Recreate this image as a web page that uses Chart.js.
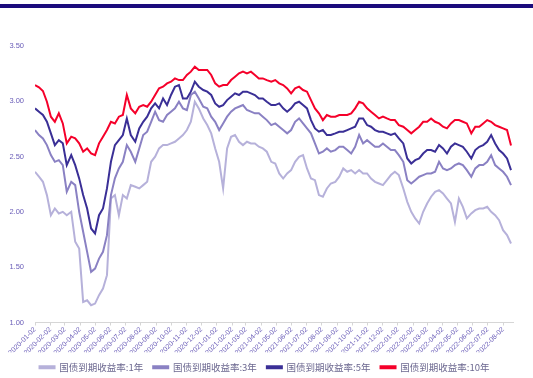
<!DOCTYPE html>
<html>
<head>
<meta charset="utf-8">
<script src="https://cdn.jsdelivr.net/npm/chart.js@4.4.0/dist/chart.umd.min.js"></script>
<style>
  html, body { margin: 0; padding: 0; background: #fff; }
  .wrap { position: relative; width: 533px; height: 378px; }
  .topbar { position: absolute; left: 0; top: 4px; width: 533px; height: 4px; background: #1b0b7c; }
  #chart { position: absolute; left: 0; top: 0; }
</style>
</head>
<body>
<div class="wrap">
  <div class="topbar"></div>
  <canvas id="chart" width="533" height="378"></canvas>
</div>
<script>
// 观测日期
const dates = [
  "2020-01-02", "2020-01-10", "2020-01-18", "2020-01-26", "2020-02-03", "2020-02-11", "2020-02-19", "2020-02-27",
  "2020-03-06", "2020-03-15", "2020-03-23", "2020-03-31", "2020-04-08", "2020-04-16", "2020-04-24", "2020-05-02",
  "2020-05-10", "2020-05-18", "2020-05-26", "2020-06-03", "2020-06-11", "2020-06-19", "2020-06-27", "2020-07-05",
  "2020-07-13", "2020-07-22", "2020-07-30", "2020-08-07", "2020-08-15", "2020-08-23", "2020-08-31", "2020-09-08",
  "2020-09-16", "2020-09-24", "2020-10-02", "2020-10-10", "2020-10-18", "2020-10-26", "2020-11-03", "2020-11-11",
  "2020-11-19", "2020-11-27", "2020-12-06", "2020-12-14", "2020-12-22", "2020-12-30", "2021-01-07", "2021-01-15",
  "2021-01-23", "2021-01-31", "2021-02-08", "2021-02-16", "2021-02-24", "2021-03-04", "2021-03-12", "2021-03-20",
  "2021-03-28", "2021-04-05", "2021-04-13", "2021-04-22", "2021-04-30", "2021-05-08", "2021-05-16", "2021-05-24",
  "2021-06-01", "2021-06-09", "2021-06-17", "2021-06-25", "2021-07-03", "2021-07-11", "2021-07-19", "2021-07-27",
  "2021-08-04", "2021-08-12", "2021-08-20", "2021-08-29", "2021-09-06", "2021-09-14", "2021-09-22", "2021-09-30",
  "2021-10-08", "2021-10-16", "2021-10-24", "2021-11-01", "2021-11-09", "2021-11-17", "2021-11-25", "2021-12-03",
  "2021-12-11", "2021-12-19", "2021-12-27", "2022-01-04", "2022-01-13", "2022-01-21", "2022-01-29", "2022-02-06",
  "2022-02-14", "2022-02-22", "2022-03-02", "2022-03-10", "2022-03-18", "2022-03-26", "2022-04-03", "2022-04-11",
  "2022-04-19", "2022-04-27", "2022-05-05", "2022-05-13", "2022-05-21", "2022-05-30", "2022-06-07", "2022-06-15",
  "2022-06-23", "2022-07-01", "2022-07-09", "2022-07-17", "2022-07-25", "2022-08-02", "2022-08-10", "2022-08-18"
];

const yield1y = [
  2.363, 2.318, 2.272, 2.152, 1.970, 2.031, 1.986, 2.001, 1.970, 2.001, 1.730, 1.669, 1.186, 1.201, 1.156, 1.171,
  1.247, 1.307, 1.428, 2.121, 2.152, 1.970, 2.152, 2.121, 2.242, 2.227, 2.212, 2.242, 2.272, 2.453, 2.499,
  2.574, 2.604, 2.604, 2.619, 2.634, 2.664, 2.695, 2.740, 2.815, 2.996, 2.936, 2.845, 2.785, 2.710, 2.574, 2.453,
  2.212, 2.574, 2.679, 2.695, 2.634, 2.604, 2.634, 2.619, 2.619, 2.589, 2.574, 2.544, 2.453,
  2.438, 2.348, 2.302, 2.348, 2.378, 2.453, 2.498, 2.513, 2.393, 2.302, 2.287, 2.152, 2.137, 2.212, 2.257, 2.272,
  2.318, 2.393, 2.363, 2.378, 2.348, 2.378, 2.348, 2.348, 2.302, 2.272, 2.257, 2.242, 2.287, 2.333,
  2.363, 2.333, 2.212, 2.091, 2.001, 1.941, 1.895, 2.001, 2.076, 2.137, 2.182, 2.197, 2.167, 2.121, 2.076, 1.910,
  2.121, 2.046, 1.941, 1.986, 2.016, 2.031, 2.031, 2.046, 2.001, 1.970, 1.925, 1.835, 1.790, 1.714
];

const yield3y = [
  2.740, 2.695, 2.664, 2.604, 2.514, 2.453, 2.468, 2.423, 2.182, 2.272, 2.242, 2.001, 1.820, 1.639, 1.458, 1.488,
  1.578, 1.639, 1.790, 2.152, 2.303, 2.393, 2.453, 2.604, 2.544, 2.453, 2.574, 2.695, 2.725, 2.815, 2.906,
  2.830, 2.815, 2.876, 2.906, 2.936, 2.996, 2.936, 2.921, 3.057, 3.087, 3.026, 2.951, 2.936, 2.861, 2.815, 2.740,
  2.800, 2.861, 2.906, 2.936, 2.951, 2.966, 2.921, 2.906, 2.891, 2.891, 2.861, 2.830, 2.785,
  2.800, 2.770, 2.740, 2.710, 2.740, 2.815, 2.845, 2.800, 2.755, 2.710, 2.619, 2.528, 2.544, 2.574, 2.544, 2.559,
  2.589, 2.589, 2.559, 2.528, 2.589, 2.695, 2.619, 2.649, 2.619, 2.589, 2.589, 2.619, 2.589, 2.559,
  2.559, 2.513, 2.453, 2.287, 2.257, 2.287, 2.318, 2.333, 2.348, 2.348, 2.363, 2.453, 2.393, 2.378, 2.393, 2.423,
  2.438, 2.423, 2.378, 2.318, 2.393, 2.423, 2.423, 2.453, 2.513, 2.423, 2.393, 2.363, 2.318, 2.242
];

const yield5y = [
  2.936, 2.906, 2.876, 2.815, 2.710, 2.604, 2.649, 2.620, 2.423, 2.514, 2.423, 2.303, 2.152, 2.031, 1.850, 1.805,
  1.970, 2.031, 2.212, 2.453, 2.604, 2.649, 2.695, 2.845, 2.695, 2.634, 2.755, 2.815, 2.861, 2.936, 2.981,
  2.936, 3.026, 2.966, 3.057, 3.132, 3.147, 3.026, 3.026, 3.087, 3.177, 3.132, 3.102, 3.087, 3.057, 2.981, 2.951,
  2.966, 3.011, 3.041, 3.072, 3.057, 3.087, 3.087, 3.072, 3.057, 3.026, 3.026, 2.996, 2.966,
  2.966, 2.981, 2.936, 2.906, 2.936, 2.981, 2.996, 2.966, 2.936, 2.830, 2.755, 2.725, 2.740, 2.695, 2.695, 2.710,
  2.725, 2.725, 2.740, 2.755, 2.770, 2.845, 2.845, 2.785, 2.770, 2.740, 2.725, 2.725, 2.710, 2.695,
  2.710, 2.664, 2.619, 2.483, 2.438, 2.468, 2.483, 2.528, 2.559, 2.559, 2.544, 2.604, 2.574, 2.528, 2.589, 2.619,
  2.604, 2.589, 2.544, 2.483, 2.559, 2.589, 2.604, 2.634, 2.695, 2.619, 2.559, 2.528, 2.483, 2.378
];

const yield10y = [
  3.147, 3.126, 3.093, 2.996, 2.861, 2.815, 2.891, 2.800, 2.620, 2.680, 2.665, 2.620, 2.544, 2.574, 2.529, 2.514,
  2.620, 2.680, 2.740, 2.815, 2.800, 2.861, 2.876, 3.057, 2.936, 2.891, 2.951, 2.966, 2.951, 2.996, 3.057,
  3.117, 3.132, 3.162, 3.177, 3.207, 3.192, 3.192, 3.238, 3.268, 3.313, 3.283, 3.283, 3.283, 3.238, 3.162, 3.132,
  3.147, 3.147, 3.192, 3.222, 3.253, 3.268, 3.253, 3.268, 3.238, 3.207, 3.207, 3.192, 3.177,
  3.192, 3.162, 3.147, 3.117, 3.072, 3.117, 3.132, 3.102, 3.087, 3.011, 2.936, 2.891, 2.830, 2.876, 2.861, 2.861,
  2.876, 2.876, 2.876, 2.891, 2.936, 2.996, 2.981, 2.936, 2.906, 2.876, 2.845, 2.861, 2.845, 2.830,
  2.830, 2.785, 2.770, 2.740, 2.710, 2.740, 2.770, 2.815, 2.815, 2.845, 2.815, 2.800, 2.770, 2.755, 2.800, 2.830,
  2.830, 2.815, 2.800, 2.710, 2.770, 2.770, 2.800, 2.830, 2.815, 2.785, 2.770, 2.755, 2.740, 2.600
];

const seriesNames = ["国债到期收益率:1年", "国债到期收益率:3年", "国债到期收益率:5年", "国债到期收益率:10年"];
const seriesColors = ["#b6b1da", "#8a81c3", "#3a2f96", "#f5002a"];

// x 轴刻度（每月2日）
const tickDates = [
  "2020-01-02", "2020-02-02", "2020-03-02", "2020-04-02", "2020-05-02", "2020-06-02", "2020-07-02", "2020-08-02",
  "2020-09-02", "2020-10-02", "2020-11-02", "2020-12-02", "2021-01-02", "2021-02-02", "2021-03-02", "2021-04-02",
  "2021-05-02", "2021-06-02", "2021-07-02", "2021-08-02", "2021-09-02", "2021-10-02", "2021-11-02", "2021-12-02",
  "2022-01-02", "2022-02-02", "2022-03-02", "2022-04-02", "2022-05-02", "2022-06-02", "2022-07-02", "2022-08-02"
];
const yTicks = [1.0, 1.5, 2.0, 2.5, 3.0, 3.5];

const axisColor = "#6a5db8";
const t0 = Date.parse(dates[0]);
const dayOf = (s) => (Date.parse(s) - t0) / 86400000;

const allSeries = [yield1y, yield3y, yield5y, yield10y];

const datasets = allSeries.map((vals, i) => ({
  label: seriesNames[i],
  data: vals.map((v, j) => ({ x: dayOf(dates[j]), y: v })),
  borderColor: seriesColors[i],
  backgroundColor: seriesColors[i],
  borderWidth: 2,
  pointRadius: 0,
  tension: 0,
  fill: false,
  order: allSeries.length - i,
}));

const ctx = document.getElementById("chart").getContext("2d");

new Chart(ctx, {
  type: "line",
  data: { datasets: datasets },
  options: {
    responsive: false,
    animation: false,
    layout: { padding: { top: 46, right: 4, left: 0, bottom: -4 } },
    plugins: {
      tooltip: { enabled: false },
      legend: {
        position: "bottom",
        labels: {
          color: "#6c6890",
          boxWidth: 15,
          boxHeight: 2,
          padding: 10,
          font: { family: "'Noto Sans CJK SC', sans-serif", size: 9.5 },
          sort: (a, b) => a.datasetIndex - b.datasetIndex,
        },
      },
    },
    scales: {
      x: {
        type: "linear",
        min: 0,
        max: dayOf("2022-08-22"),
        afterBuildTicks: (scale) => {
          scale.ticks = tickDates.map((s) => ({ value: dayOf(s) }));
        },
        afterFit: (scale) => {
          scale.height = 30;
        },
        ticks: {
          autoSkip: false,
          maxRotation: 45,
          minRotation: 45,
          padding: 0,
          color: axisColor,
          font: { family: "'Liberation Sans', Arial, sans-serif", size: 7 },
          callback: (v, i) => tickDates[i],
        },
        grid: {
          drawOnChartArea: false,
          drawTicks: true,
          tickLength: 3,
          color: "#d6d6d6",
        },
        border: { display: true, color: "#d6d6d6" },
      },
      y: {
        min: 1,
        max: 3.5,
        afterBuildTicks: (scale) => {
          scale.ticks = yTicks.map((v) => ({ value: v }));
        },
        afterFit: (scale) => {
          scale.width = 35;
        },
        ticks: {
          padding: 11,
          color: axisColor,
          font: { family: "'Liberation Sans', Arial, sans-serif", size: 7.5 },
          callback: (v) => v.toFixed(2),
        },
        grid: { display: false, drawTicks: false },
        border: { display: false },
      },
      // 右侧留白
      yRight: {
        position: "right",
        min: 1,
        max: 3.5,
        afterFit: (scale) => {
          scale.width = 16;
        },
        ticks: { display: false },
        grid: { display: false, drawTicks: false },
        border: { display: false },
      },
    },
  },
});
</script>
</body>
</html>
